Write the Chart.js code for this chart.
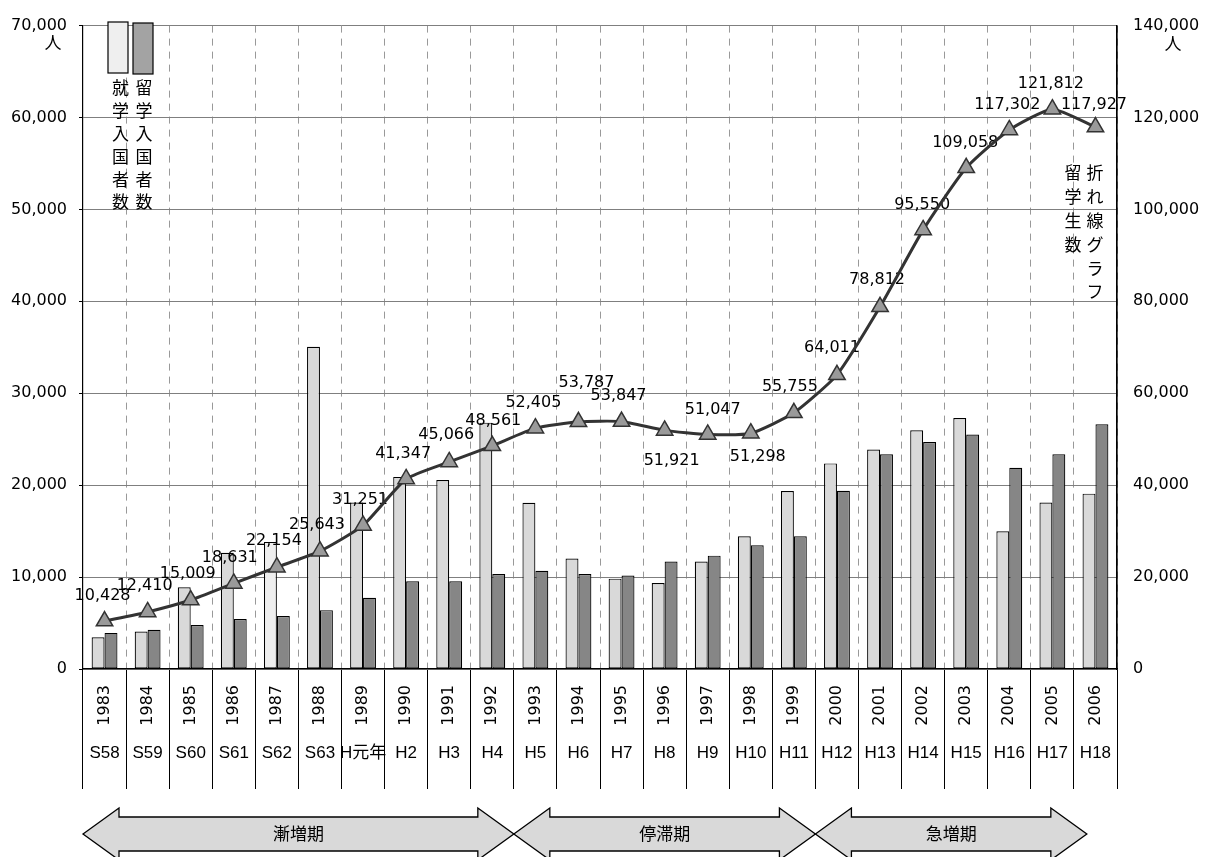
<!DOCTYPE html>
<html lang="ja">
<head>
<meta charset="utf-8">
<title>留学生数・入国者数の推移</title>
<script src="https://cdn.jsdelivr.net/npm/chart.js@4.4.1/dist/chart.umd.min.js"></script>
<style>
  html, body { margin: 0; padding: 0; background: #fff; }
  #wrap { width: 1210px; height: 857px; }
</style>
</head>
<body>
<div id="wrap"><canvas id="canvas" width="1210" height="857"></canvas></div>
<script>
// 年次（西暦・和暦）
const years = ['1983', '1984', '1985', '1986', '1987', '1988', '1989', '1990', '1991', '1992', '1993', '1994',
  '1995', '1996', '1997', '1998', '1999', '2000', '2001', '2002', '2003', '2004', '2005', '2006'];
const eras = ['S58', 'S59', 'S60', 'S61', 'S62', 'S63', 'H元年', 'H2', 'H3', 'H4', 'H5', 'H6',
  'H7', 'H8', 'H9', 'H10', 'H11', 'H12', 'H13', 'H14', 'H15', 'H16', 'H17', 'H18'];

// 入国者数（左軸・棒）
const shugakuEntrants = [3460, 4070, 8900, 12650, 13830, 35050, 18120, 20900, 20550, 26800, 18090, 12010,
  9830, 9360, 11690, 14440, 19370, 22370, 23870, 25980, 27300, 14980, 18120, 19080];
const ryugakuEntrants = [3930, 4260, 4790, 5440, 5760, 6400, 7750, 9540, 9540, 10330, 10690, 10330,
  10180, 11690, 12330, 13470, 14440, 19400, 23370, 24690, 25510, 21900, 23370, 26620];

// 留学生数（右軸・折れ線）
const students = [10428, 12410, 15009, 18631, 22154, 25643, 31251, 41347, 45066, 48561, 52405, 53787,
  53847, 51921, 51047, 51298, 55755, 64011, 78812, 95550, 109058, 117302, 121812, 117927];

const leftTickLabels = ['0', '10,000', '20,000', '30,000', '40,000', '50,000', '60,000', '70,000'];
const rightTickLabels = ['0', '20,000', '40,000', '60,000', '80,000', '100,000', '120,000', '140,000'];

// 時期区分：名前, 開始・終了（カテゴリ境界の番号）
const periods = [
  ['漸増期', 0, 10],
  ['停滞期', 10, 17],
  ['急増期', 17, 23.3]
];

// 折れ線の数値ラベルを点からずらす量 [dx, dy]
const labelShift = [
  [-2, -25], [-3, -26], [-3, -26], [-4, -26], [-3, -26], [-3, -26], [-3, -26], [-3, -25],
  [-3, -27], [1, -25], [-2, -25], [8, -39], [-3, -26], [7, 30], [5, -25], [7, 24],
  [-4, -26], [-5, -27], [-3, -27], [-1, -25], [-1, -25], [-2, -25], [-1.5, -25], [-1.5, -22]
];

const NUM_FONT = '"DejaVu Sans", sans-serif';
const JP_FONT = '"Noto Sans CJK JP", sans-serif';
const fmt = v => v.toLocaleString('en-US');

const shugakuFill = years.map(y => y === '1987' ? '#eeeeee' : '#d9d9d9');

// 数値ラベルは棒の上、折れ線の下に描く
const studentLabels = {
  id: 'studentLabels',
  beforeDatasetDraw(chart, args) {
    if (args.index !== 2) return;
    const ctx = chart.ctx;
    const pts = chart.getDatasetMeta(2).data;
    ctx.save();
    ctx.font = '16px ' + NUM_FONT;
    ctx.fillStyle = '#000';
    ctx.textAlign = 'center';
    ctx.textBaseline = 'middle';
    pts.forEach((p, i) => {
      const [dx, dy] = labelShift[i];
      ctx.fillText(fmt(students[i]), p.x + dx, p.y + dy);
    });
    ctx.restore();
  }
};

// 凡例、単位、縦書き注記、時期区分の矢印
const decorations = {
  id: 'decorations',
  afterDraw(chart) {
    const ctx = chart.ctx;
    const xs = chart.scales.x;
    const area = chart.chartArea;
    ctx.save();

    // 右の軸線
    ctx.strokeStyle = '#000';
    ctx.lineWidth = 1.2;
    ctx.beginPath();
    ctx.moveTo(area.right, area.top);
    ctx.lineTo(area.right, area.bottom);
    ctx.stroke();

    ctx.fillStyle = '#efefef';
    ctx.fillRect(108, 22, 20, 51);
    ctx.strokeRect(108, 22, 20, 51);
    ctx.fillStyle = '#a3a3a3';
    ctx.fillRect(133, 23, 20, 51);
    ctx.strokeRect(133, 23, 20, 51);

    ctx.fillStyle = '#000';
    ctx.font = '17px ' + JP_FONT;
    ctx.textAlign = 'center';
    ctx.textBaseline = 'middle';
    const vertical = (text, x, y, gap) => {
      [...text].forEach((ch, i) => ctx.fillText(ch, x, y + i * gap));
    };
    vertical('就学入国者数', 120.5, 88, 22.8);
    vertical('留学入国者数', 144, 88, 22.8);
    vertical('折れ線グラフ', 1095, 173, 23.8);
    vertical('留学生数', 1073, 173, 23.8);
    ctx.fillText('人', 53, 43);
    ctx.fillText('人', 1173, 44);

    // 両矢印
    const step = xs.getPixelForValue(1) - xs.getPixelForValue(0);
    const edge = k => xs.getPixelForValue(0) - step / 2 + k * step;
    const cy = 834, head = 36, hh = 26, bh = 17;
    periods.forEach(([name, from, to]) => {
      const a = edge(from), b = edge(to);
      ctx.beginPath();
      ctx.moveTo(a, cy);
      ctx.lineTo(a + head, cy - hh);
      ctx.lineTo(a + head, cy - bh);
      ctx.lineTo(b - head, cy - bh);
      ctx.lineTo(b - head, cy - hh);
      ctx.lineTo(b, cy);
      ctx.lineTo(b - head, cy + hh);
      ctx.lineTo(b - head, cy + bh);
      ctx.lineTo(a + head, cy + bh);
      ctx.lineTo(a + head, cy + hh);
      ctx.closePath();
      ctx.fillStyle = '#d9d9d9';
      ctx.fill();
      ctx.lineWidth = 1.3;
      ctx.strokeStyle = '#000';
      ctx.stroke();
      ctx.fillStyle = '#000';
      ctx.font = '17px ' + JP_FONT;
      ctx.fillText(name, (a + b) / 2, cy);
    });
    ctx.restore();
  }
};

new Chart(document.getElementById('canvas').getContext('2d'), {
  type: 'bar',
  data: {
    labels: years,
    datasets: [
      {
        type: 'bar',
        label: '就学入国者数',
        data: shugakuEntrants,
        yAxisID: 'y',
        backgroundColor: shugakuFill,
        borderColor: '#000',
        borderWidth: 1.2,
        borderSkipped: false,
        categoryPercentage: 0.6,
        barPercentage: 1,
        order: 1
      },
      {
        type: 'bar',
        label: '留学入国者数',
        data: ryugakuEntrants,
        yAxisID: 'y',
        backgroundColor: '#868686',
        borderColor: '#000',
        borderWidth: 1.2,
        borderSkipped: false,
        categoryPercentage: 0.6,
        barPercentage: 1,
        order: 1
      },
      {
        type: 'line',
        label: '留学生数',
        data: students,
        yAxisID: 'y2',
        borderColor: '#333',
        borderWidth: 3,
        tension: 0.18,
        pointStyle: 'triangle',
        pointRadius: 9.5,
        pointBackgroundColor: '#9a9a9a',
        pointBorderColor: '#333',
        pointBorderWidth: 1.5,
        order: 0
      }
    ]
  },
  options: {
    responsive: false,
    animation: false,
    devicePixelRatio: 1,
    layout: { padding: { left: 0, right: 0, top: 16, bottom: 68 } },
    plugins: {
      legend: { display: false },
      tooltip: { enabled: false }
    },
    scales: {
      x: {
        type: 'category',
        offset: true,
        grid: {
          offset: true,
          color: c => (c.index === 0 || c.index === years.length) ? 'rgba(0,0,0,0)' : '#999',
          lineWidth: 1,
          tickLength: 120,
          tickColor: '#000',
          tickWidth: 1,
          tickBorderDash: []
        },
        border: { display: true, color: '#000', width: 1.2, dash: [7, 6], z: 1 },
        ticks: {
          autoSkip: false,
          minRotation: 90,
          maxRotation: 90,
          padding: -104,
          color: '#000',
          font: { family: NUM_FONT, size: 16 }
        },
        afterFit: s => { s.height = 120; }
      },
      // 和暦の行：軸線のすぐ下に高さ0で置き、ラベルは表の中へ下げる
      x2: {
        type: 'category',
        labels: eras,
        position: 'bottom',
        weight: -1,
        offset: true,
        grid: { display: false, drawTicks: false },
        border: { display: false },
        ticks: {
          autoSkip: false,
          minRotation: 0,
          maxRotation: 0,
          mirror: true,
          padding: -95,
          color: '#000',
          font: { family: '"Liberation Sans", "Noto Sans CJK JP", sans-serif', size: 17 }
        },
        afterFit: s => { s.height = 0; }
      },
      y: {
        position: 'left',
        min: 0,
        max: 70000,
        ticks: {
          stepSize: 10000,
          callback: (v, i) => leftTickLabels[i],
          padding: 12,
          color: '#000',
          font: { family: NUM_FONT, size: 16 }
        },
        grid: { color: '#7f7f7f', tickLength: 4, tickColor: '#000' },
        border: { color: '#000', width: 1.2, z: 1 },
        afterFit: s => { s.width = 83; }
      },
      y2: {
        position: 'right',
        min: 0,
        max: 140000,
        ticks: {
          stepSize: 20000,
          callback: (v, i) => rightTickLabels[i],
          padding: 16,
          color: '#000',
          font: { family: NUM_FONT, size: 16 }
        },
        grid: { drawOnChartArea: false, drawTicks: false },
        border: { color: '#000', width: 1.2, z: 1 },
        afterFit: s => { s.width = 93; }
      }
    }
  },
  plugins: [studentLabels, decorations]
});
</script>
</body>
</html>
